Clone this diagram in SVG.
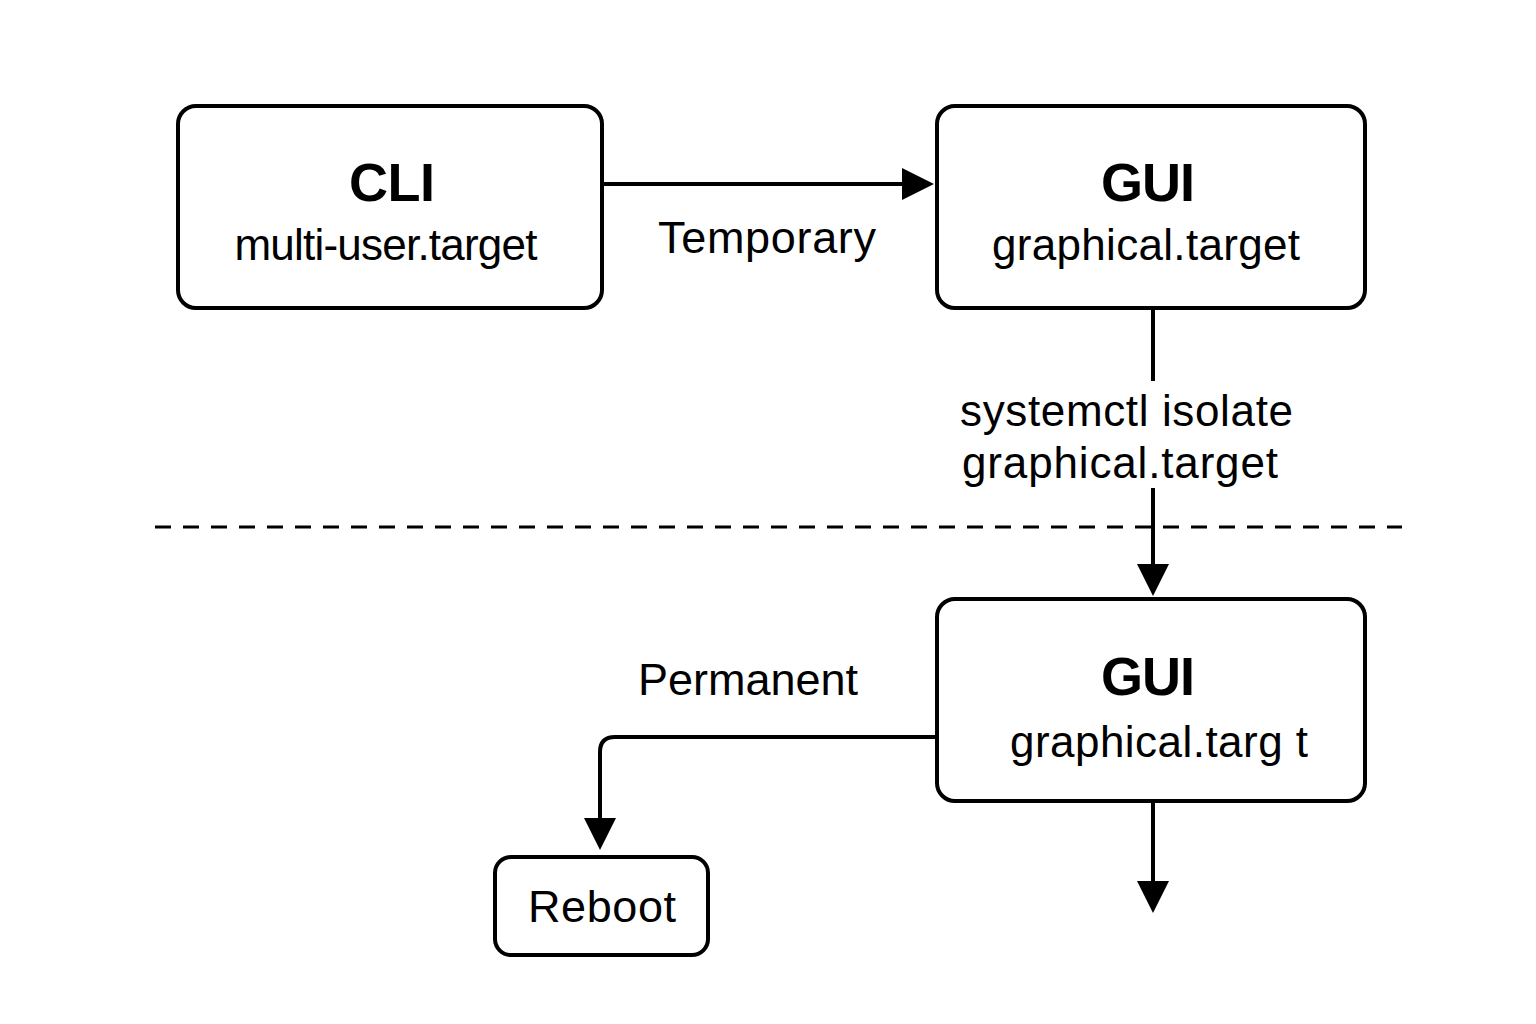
<svg xmlns="http://www.w3.org/2000/svg" width="1536" height="1024" viewBox="0 0 1536 1024">
<style>
.box{fill:#fff;stroke:#000;stroke-width:4}
.t{font-family:"Liberation Sans",Arial,sans-serif;fill:#000;text-anchor:middle}
.title{font-size:54px;font-weight:bold}
.sub{font-size:44px}
.lbl{font-size:45px}
.ln{fill:none;stroke:#000;stroke-width:4}
</style>
<defs>
<marker id="ah" markerWidth="8" markerHeight="8" refX="7" refY="4" orient="auto" markerUnits="strokeWidth" viewBox="0 0 8 8">
<path d="M0,0 L8,4 L0,8 Z" fill="#000"/>
</marker>
</defs>
<rect width="1536" height="1024" fill="#fff"/>
<g id="connectors">
<line class="ln" x1="604" y1="184" x2="930" y2="184" marker-end="url(#ah)"/>
<line class="ln" x1="1153" y1="308" x2="1153" y2="381"/>
<line class="ln" x1="1153" y1="488" x2="1153" y2="592" marker-end="url(#ah)"/>
<path class="ln" d="M937,737 L615,737 Q600,737 600,752 L600,846" marker-end="url(#ah)"/>
<line class="ln" x1="1153" y1="801" x2="1153" y2="909" marker-end="url(#ah)"/>
<line x1="155" y1="527" x2="1402" y2="527" stroke="#000" stroke-width="3" stroke-dasharray="16,12"/>
<text class="t lbl" x="767" y="253" textLength="218">Temporary</text>
<text class="t sub" x="960" y="426" style="text-anchor:start" textLength="333">systemctl isolate</text>
<text class="t sub" x="962" y="478" style="text-anchor:start" textLength="316">graphical.target</text>
<text class="t lbl" x="748" y="695" textLength="220">Permanent</text>
</g>
<g id="cli">
<rect class="box" x="178" y="106" width="424" height="202" rx="18"/>
<text class="t title" x="392" y="201" textLength="86">CLI</text>
<text class="t sub" x="386" y="260" textLength="303">multi-user.target</text>
</g>
<g id="gui-top">
<rect class="box" x="937" y="106" width="428" height="202" rx="18"/>
<text class="t title" x="1148" y="201" textLength="94">GUI</text>
<text class="t sub" x="1146" y="260" textLength="308">graphical.target</text>
</g>
<g id="gui-bottom">
<rect class="box" x="937" y="599" width="428" height="202" rx="18"/>
<text class="t title" x="1148" y="695" textLength="94">GUI</text>
<text class="t sub" x="1159" y="757" textLength="298">graphical.targ t</text>
</g>
<g id="reboot">
<rect class="box" x="495" y="857" width="213" height="98" rx="16"/>
<text class="t lbl" x="602" y="922" textLength="148">Reboot</text>
</g>
</svg>
